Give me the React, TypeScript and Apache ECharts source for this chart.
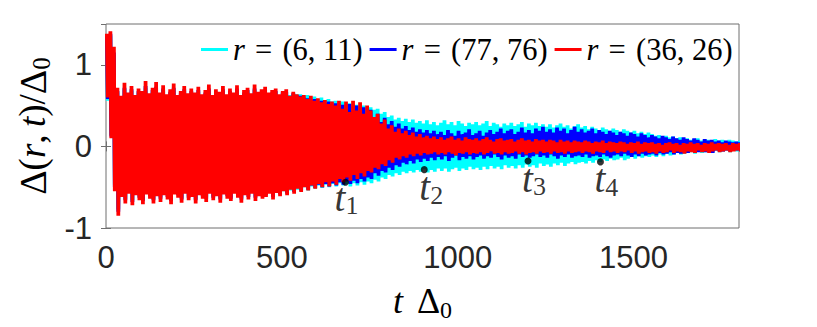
import React, { useEffect, useRef } from 'react';
import * as echarts from 'echarts';

// sample spacing of the envelope readings (t units); each reading gives the high and low swing
const SAMPLE_STEP = 10;

const seriesNames = ['r = (6, 11)', 'r = (77, 76)', 'r = (36, 26)'];
const seriesColors = ['#00FFFF', '#0000FF', '#FF0000'];

const cyanHigh = [
  1.33, 1.36, 1.12, 0.66, 0.58,
  0.70, 0.61, 0.68, 0.59, 0.66, 0.63, 0.72, 0.60, 0.67, 0.71,
  0.61, 0.69, 0.59, 0.65, 0.70, 0.58, 0.63, 0.68, 0.60, 0.66,
  0.61, 0.67, 0.59, 0.64, 0.69, 0.58, 0.65, 0.62, 0.68, 0.59,
  0.66, 0.61, 0.69, 0.58, 0.64, 0.67, 0.60, 0.69, 0.62, 0.65,
  0.67, 0.62, 0.65, 0.67, 0.63, 0.66, 0.66, 0.63, 0.65, 0.64,
  0.64, 0.62, 0.63, 0.60, 0.61, 0.58, 0.60, 0.57, 0.58, 0.55,
  0.56, 0.53, 0.55, 0.51, 0.53, 0.49, 0.51, 0.48, 0.50, 0.47,
  0.48, 0.45, 0.46, 0.40, 0.42, 0.36, 0.38, 0.33, 0.35, 0.31,
  0.34, 0.30, 0.33, 0.29, 0.31, 0.28, 0.32, 0.27, 0.30, 0.26,
  0.29, 0.32, 0.27, 0.30, 0.26, 0.31, 0.28, 0.25, 0.29, 0.27,
  0.30, 0.26, 0.28, 0.31, 0.25, 0.29, 0.27, 0.24, 0.28, 0.26,
  0.29, 0.25, 0.27, 0.30, 0.24, 0.28, 0.26, 0.29, 0.25, 0.27,
  0.24, 0.27, 0.23, 0.26, 0.28, 0.24, 0.26, 0.22, 0.25, 0.27,
  0.23, 0.25, 0.21, 0.24, 0.22, 0.20, 0.23, 0.21, 0.19, 0.22,
  0.20, 0.18, 0.21, 0.19, 0.17, 0.19, 0.16, 0.18, 0.15, 0.17,
  0.15, 0.13, 0.14, 0.12, 0.13, 0.11, 0.12, 0.10, 0.11, 0.09,
  0.10, 0.08, 0.09, 0.10, 0.07, 0.09, 0.08, 0.07, 0.09, 0.07,
  0.08, 0.06, 0.08, 0.07, 0.06, 0.07,
];
const cyanLow = [
  0.56, 0.14, -0.47, -0.77, -0.56,
  -0.64, -0.53, -0.66, -0.55, -0.61, -0.65, -0.54, -0.59, -0.64, -0.56,
  -0.62, -0.55, -0.60, -0.65, -0.54, -0.58, -0.63, -0.53, -0.61, -0.57,
  -0.64, -0.55, -0.59, -0.62, -0.53, -0.61, -0.56, -0.63, -0.54, -0.59,
  -0.62, -0.53, -0.58, -0.63, -0.55, -0.60, -0.53, -0.61, -0.56, -0.59,
  -0.59, -0.55, -0.60, -0.56, -0.58, -0.55, -0.57, -0.54, -0.56, -0.53,
  -0.55, -0.50, -0.54, -0.49, -0.52, -0.48, -0.51, -0.47, -0.50, -0.46,
  -0.49, -0.45, -0.48, -0.46, -0.49, -0.45, -0.48, -0.44, -0.47, -0.43,
  -0.45, -0.41, -0.43, -0.38, -0.40, -0.35, -0.37, -0.33, -0.35, -0.31,
  -0.33, -0.30, -0.32, -0.29, -0.31, -0.28, -0.32, -0.29, -0.31, -0.27,
  -0.30, -0.27, -0.31, -0.28, -0.26, -0.30, -0.27, -0.29, -0.25, -0.28,
  -0.26, -0.29, -0.25, -0.28, -0.24, -0.27, -0.25, -0.28, -0.23, -0.26,
  -0.24, -0.27, -0.23, -0.26, -0.22, -0.25, -0.23, -0.26, -0.21, -0.24,
  -0.22, -0.25, -0.21, -0.23, -0.20, -0.24, -0.21, -0.19, -0.22, -0.20,
  -0.19, -0.21, -0.18, -0.20, -0.17, -0.19, -0.16, -0.18, -0.15, -0.17,
  -0.16, -0.14, -0.17, -0.15, -0.13, -0.15, -0.12, -0.14, -0.12, -0.13,
  -0.11, -0.13, -0.10, -0.12, -0.09, -0.11, -0.10, -0.08, -0.10, -0.09,
  -0.08, -0.07, -0.09, -0.06, -0.08, -0.07, -0.06, -0.08, -0.05, -0.07,
  -0.06, -0.05, -0.07, -0.05, -0.06, -0.05,
];

const blueHigh = [
  1.35, 1.38, 1.15, 0.68, 0.60,
  0.72, 0.63, 0.70, 0.61, 0.68, 0.65, 0.74, 0.62, 0.69, 0.73,
  0.63, 0.71, 0.61, 0.67, 0.72, 0.60, 0.65, 0.70, 0.62, 0.68,
  0.63, 0.69, 0.61, 0.66, 0.71, 0.60, 0.67, 0.64, 0.70, 0.61,
  0.68, 0.63, 0.71, 0.60, 0.66, 0.69, 0.62, 0.71, 0.64, 0.67,
  0.69, 0.63, 0.66, 0.68, 0.62, 0.66, 0.67, 0.61, 0.65, 0.63,
  0.62, 0.60, 0.59, 0.57, 0.58, 0.55, 0.56, 0.53, 0.55, 0.51,
  0.53, 0.48, 0.51, 0.45, 0.52, 0.43, 0.50, 0.41, 0.48, 0.38,
  0.45, 0.34, 0.40, 0.30, 0.35, 0.27, 0.31, 0.24, 0.28, 0.22,
  0.25, 0.20, 0.23, 0.18, 0.21, 0.17, 0.20, 0.16, 0.19, 0.15,
  0.18, 0.14, 0.20, 0.16, 0.13, 0.19, 0.15, 0.17, 0.21, 0.14,
  0.16, 0.19, 0.13, 0.17, 0.20, 0.15, 0.18, 0.22, 0.16, 0.19,
  0.21, 0.15, 0.18, 0.23, 0.17, 0.20, 0.16, 0.22, 0.19, 0.24,
  0.18, 0.21, 0.17, 0.23, 0.19, 0.22, 0.16, 0.20, 0.24, 0.18,
  0.21, 0.17, 0.19, 0.22, 0.16, 0.20, 0.18, 0.15, 0.19, 0.17,
  0.14, 0.18, 0.16, 0.13, 0.17, 0.15, 0.12, 0.16, 0.14, 0.11,
  0.14, 0.12, 0.10, 0.13, 0.11, 0.09, 0.12, 0.10, 0.08, 0.11,
  0.09, 0.07, 0.10, 0.08, 0.06, 0.09, 0.07, 0.08, 0.06, 0.07,
  0.05, 0.07, 0.06, 0.05, 0.06, 0.05,
];
const blueLow = [
  0.58, 0.12, -0.50, -0.80, -0.58,
  -0.66, -0.55, -0.68, -0.57, -0.63, -0.67, -0.56, -0.61, -0.66, -0.58,
  -0.64, -0.57, -0.62, -0.67, -0.56, -0.60, -0.65, -0.55, -0.63, -0.59,
  -0.66, -0.57, -0.61, -0.64, -0.55, -0.63, -0.58, -0.65, -0.56, -0.61,
  -0.64, -0.55, -0.60, -0.65, -0.57, -0.62, -0.55, -0.63, -0.58, -0.61,
  -0.60, -0.56, -0.62, -0.55, -0.59, -0.54, -0.58, -0.52, -0.56, -0.51,
  -0.54, -0.49, -0.53, -0.48, -0.51, -0.47, -0.50, -0.46, -0.49, -0.45,
  -0.48, -0.44, -0.47, -0.43, -0.46, -0.42, -0.45, -0.40, -0.43, -0.38,
  -0.40, -0.33, -0.36, -0.30, -0.32, -0.26, -0.29, -0.23, -0.25, -0.20,
  -0.22, -0.18, -0.21, -0.16, -0.19, -0.15, -0.18, -0.14, -0.17, -0.13,
  -0.16, -0.12, -0.18, -0.14, -0.11, -0.17, -0.13, -0.15, -0.12, -0.16,
  -0.13, -0.11, -0.15, -0.12, -0.14, -0.10, -0.13, -0.16, -0.11, -0.14,
  -0.12, -0.15, -0.10, -0.13, -0.11, -0.14, -0.12, -0.10, -0.13, -0.11,
  -0.14, -0.10, -0.12, -0.15, -0.11, -0.13, -0.10, -0.14, -0.12, -0.11,
  -0.13, -0.10, -0.14, -0.12, -0.11, -0.13, -0.10, -0.12, -0.14, -0.11,
  -0.10, -0.12, -0.09, -0.11, -0.13, -0.10, -0.12, -0.09, -0.11, -0.10,
  -0.09, -0.11, -0.08, -0.10, -0.09, -0.07, -0.10, -0.08, -0.09, -0.07,
  -0.08, -0.06, -0.08, -0.07, -0.05, -0.07, -0.06, -0.08, -0.05, -0.06,
  -0.06, -0.05, -0.06, -0.04, -0.05, -0.05,
];

const redHigh = [
  1.38, 1.41, 1.22, 0.72, 0.62,
  0.78, 0.66, 0.74, 0.63, 0.71, 0.68, 0.80, 0.65, 0.72, 0.79,
  0.66, 0.75, 0.64, 0.70, 0.77, 0.63, 0.68, 0.74, 0.65, 0.71,
  0.66, 0.73, 0.64, 0.69, 0.76, 0.63, 0.70, 0.67, 0.74, 0.64,
  0.71, 0.66, 0.75, 0.63, 0.69, 0.72, 0.65, 0.76, 0.67, 0.70,
  0.73, 0.66, 0.69, 0.71, 0.64, 0.68, 0.70, 0.62, 0.67, 0.64,
  0.61, 0.63, 0.58, 0.62, 0.56, 0.59, 0.54, 0.57, 0.52, 0.55,
  0.50, 0.56, 0.46, 0.55, 0.42, 0.56, 0.44, 0.54, 0.40, 0.50,
  0.44, 0.36, 0.40, 0.28, 0.33, 0.22, 0.26, 0.18, 0.22, 0.16,
  0.19, 0.14, 0.17, 0.12, 0.15, 0.11, 0.13, 0.10, 0.12, 0.09,
  0.11, 0.08, 0.10, 0.12, 0.08, 0.10, 0.07, 0.11, 0.09, 0.08,
  0.10, 0.07, 0.09, 0.11, 0.08, 0.06, 0.09, 0.10, 0.07, 0.08,
  0.09, 0.06, 0.08, 0.10, 0.07, 0.08, 0.06, 0.09, 0.07, 0.08,
  0.06, 0.08, 0.07, 0.05, 0.08, 0.06, 0.07, 0.05, 0.07, 0.06,
  0.05, 0.07, 0.06, 0.04, 0.06, 0.05, 0.07, 0.04, 0.06, 0.05,
  0.04, 0.06, 0.05, 0.03, 0.05, 0.04, 0.06, 0.03, 0.05, 0.04,
  0.05, 0.03, 0.04, 0.02, 0.04, 0.05, 0.03, 0.04, 0.02, 0.04,
  0.03, 0.05, 0.03, 0.04, 0.02, 0.04, 0.03, 0.05, 0.03, 0.04,
  0.03, 0.04, 0.02, 0.04, 0.03, 0.04,
];
const redLow = [
  0.60, 0.10, -0.55, -0.85, -0.62,
  -0.70, -0.58, -0.72, -0.60, -0.66, -0.71, -0.59, -0.64, -0.70, -0.61,
  -0.68, -0.60, -0.65, -0.71, -0.59, -0.63, -0.69, -0.58, -0.66, -0.62,
  -0.70, -0.60, -0.64, -0.68, -0.58, -0.66, -0.61, -0.69, -0.59, -0.64,
  -0.67, -0.58, -0.63, -0.69, -0.60, -0.65, -0.58, -0.67, -0.61, -0.64,
  -0.62, -0.58, -0.65, -0.57, -0.61, -0.55, -0.60, -0.53, -0.58, -0.52,
  -0.56, -0.50, -0.54, -0.48, -0.52, -0.46, -0.50, -0.44, -0.49, -0.43,
  -0.47, -0.40, -0.44, -0.38, -0.42, -0.35, -0.40, -0.33, -0.37, -0.30,
  -0.32, -0.26, -0.28, -0.22, -0.24, -0.17, -0.20, -0.14, -0.16, -0.12,
  -0.14, -0.10, -0.12, -0.09, -0.11, -0.08, -0.10, -0.09, -0.07, -0.10,
  -0.08, -0.10, -0.07, -0.09, -0.11, -0.08, -0.09, -0.07, -0.10, -0.08,
  -0.09, -0.07, -0.10, -0.08, -0.06, -0.09, -0.08, -0.10, -0.07, -0.09,
  -0.08, -0.06, -0.09, -0.07, -0.10, -0.08, -0.07, -0.09, -0.06, -0.08,
  -0.07, -0.09, -0.06, -0.08, -0.07, -0.09, -0.06, -0.08, -0.07, -0.06,
  -0.08, -0.06, -0.07, -0.09, -0.06, -0.07, -0.08, -0.05, -0.07, -0.06,
  -0.08, -0.06, -0.07, -0.05, -0.08, -0.06, -0.09, -0.07, -0.06, -0.08,
  -0.07, -0.09, -0.06, -0.08, -0.07, -0.05, -0.08, -0.06, -0.07, -0.09,
  -0.06, -0.07, -0.08, -0.05, -0.07, -0.06, -0.08, -0.06, -0.05, -0.07,
  -0.06, -0.05, -0.07, -0.06, -0.05, -0.06,
];

// marked instants t_1 ... t_4
const markerT = [681, 905, 1200, 1406];
const markerV = [-0.44, -0.285, -0.18, -0.19];
const markerSub = ['1', '2', '3', '4'];

const xTickValues = [0, 500, 1000, 1500];
const yTickValues = [-1, 0, 1];

const SERIF = "'Liberation Serif', 'DejaVu Serif', serif";
const SANS = "'Liberation Sans', Arial, Helvetica, sans-serif";
const FRAME = '#6f6f6f';
const TICKTXT = '#262626';

// the signal swings between its high and low reading twice within each sample interval
function oscillation(high: number[], low: number[]) {
  const out: number[][] = [];
  const q = SAMPLE_STEP / 4;
  for (let i = 0; i < high.length; i++) {
    const t = i * SAMPLE_STEP;
    out.push([t, high[i]]);
    out.push([t + q, low[i]]);
    out.push([t + 2 * q, high[i]]);
    out.push([t + 3 * q, low[i]]);
  }
  return out;
}

export default function App() {
  const ref = useRef<HTMLDivElement>(null);
  useEffect(() => {
    if (!ref.current) return;
    const chart = echarts.init(ref.current, undefined, { renderer: 'svg' });
    const highs = [cyanHigh, blueHigh, redHigh];
    const lows = [cyanLow, blueLow, redLow];
    const labelDx = [1, 7, 6, 6];
    const labelDy = [6, 8, 8, 8];
    const lineSeries = seriesNames.map((name, k) => ({
      type: 'line',
      name,
      data: oscillation(highs[k], lows[k]),
      showSymbol: false,
      symbol: 'none',
      lineStyle: { color: seriesColors[k], width: 2 },
      itemStyle: { color: seriesColors[k] },
      clip: true,
      z: 2 + k,
    }));
    const axisTick = { show: true, inside: true, length: 5, lineStyle: { color: FRAME, width: 1 } };
    const option = {
      animation: false,
      backgroundColor: '#ffffff',
      grid: { left: 106, right: 78, top: 24, bottom: 93, show: true, borderColor: FRAME, borderWidth: 1, backgroundColor: 'transparent' },
      legend: {
        data: seriesNames,
        left: 201,
        top: 34,
        padding: 0,
        itemGap: 7,
        itemWidth: 27,
        itemHeight: 3,
        icon: 'rect',
        selectedMode: false,
        formatter: (n: string) => '{i|r}{n|' + n.slice(1).replace(' = ', '\u2004=\u2004') + '}',
        textStyle: {
          fontSize: 30.5,
          fontFamily: SERIF,
          color: '#000',
          rich: {
            i: { fontSize: 30.5, fontFamily: SERIF, fontStyle: 'italic', color: '#000' },
            n: { fontSize: 30.5, fontFamily: SERIF, color: '#000' },
          },
        },
      },
      xAxis: [
        {
          type: 'value', position: 'bottom', min: 0, max: 1800, interval: 500,
          axisLine: { show: false }, splitLine: { show: false }, axisTick,
          axisLabel: {
            margin: 14, fontSize: 31, fontFamily: SANS, color: TICKTXT, showMaxLabel: false,
            formatter: (v: number) => (xTickValues.includes(v) ? String(v) : ''),
          },
          name: '{i|t}{n|\u2003}{d|Δ}{s|0}',
          nameLocation: 'middle',
          nameGap: 55,
          nameTextStyle: {
            rich: {
              i: { fontSize: 36, fontFamily: SERIF, fontStyle: 'italic', color: '#000', lineHeight: 36, verticalAlign: 'top' },
              n: { fontSize: 14, fontFamily: SERIF, color: '#000', lineHeight: 36, verticalAlign: 'top' },
              d: { fontSize: 36, fontFamily: SERIF, color: '#000', lineHeight: 36, verticalAlign: 'top' },
              s: { fontSize: 24, fontFamily: SERIF, color: '#000', lineHeight: 24, padding: [15, 0, 0, 0], verticalAlign: 'top' },
            },
          },
        },
        {
          type: 'value', position: 'top', min: 0, max: 1800, interval: 500,
          axisLine: { show: false }, splitLine: { show: false }, axisTick,
          axisLabel: { show: false },
        },
      ],
      yAxis: [
        {
          type: 'value', position: 'left', min: -1, max: 1.5, interval: 1,
          axisLine: { show: false }, splitLine: { show: false }, axisTick,
          axisLabel: {
            margin: 14, fontSize: 31, fontFamily: SANS, color: TICKTXT, showMaxLabel: false,
            formatter: (v: number) => (yTickValues.includes(v) ? String(v) : ''),
          },
          name: '{d|Δ}{n|(}{i|r}{n|,\u2009}{i|t}{n|)/}{d|Δ}{s|0}',
          nameLocation: 'middle',
          nameGap: 46,
          nameRotate: 90,
          nameTextStyle: {
            rich: {
              i: { fontSize: 37, fontFamily: SERIF, fontStyle: 'italic', color: '#000', lineHeight: 38, verticalAlign: 'top' },
              n: { fontSize: 37, fontFamily: SERIF, color: '#000', lineHeight: 38, verticalAlign: 'top' },
              d: { fontSize: 38, fontFamily: SERIF, color: '#000', lineHeight: 38, verticalAlign: 'top' },
              s: { fontSize: 25, fontFamily: SERIF, color: '#000', lineHeight: 25, padding: [15, 0, 0, 0], verticalAlign: 'top' },
            },
          },
        },
        {
          type: 'value', position: 'right', min: -1, max: 1.5, interval: 1,
          axisLine: { show: false }, splitLine: { show: false }, axisTick,
          axisLabel: { show: false },
        },
      ],
      series: [
        ...lineSeries,
        {
          type: 'scatter',
          name: 'marks',
          symbolSize: 7,
          itemStyle: { color: '#000' },
          z: 10,
          data: markerT.map((t, i) => ({
            value: [t, markerV[i]],
            label: { offset: [labelDx[i], labelDy[i] - 14] },
          })),
          label: {
            show: true,
            position: 'bottom',
            distance: 0,
            formatter: (p: any) => '{t|t}{s|' + markerSub[p.dataIndex] + '}',
            rich: {
              t: { fontSize: 39, fontFamily: SERIF, fontStyle: 'italic', color: '#000', lineHeight: 38, verticalAlign: 'top' },
              s: { fontSize: 26, fontFamily: SERIF, color: '#000', lineHeight: 26, padding: [15, 0, 0, 0], verticalAlign: 'top' },
            },
          },
        },
      ],
    };
    chart.setOption(option as any);
    return () => chart.dispose();
  }, []);
  return (
    <div
      ref={ref}
      style={{ position: 'fixed', left: 0, top: 0, width: 817, height: 327, background: '#fff' }}
    />
  );
}
